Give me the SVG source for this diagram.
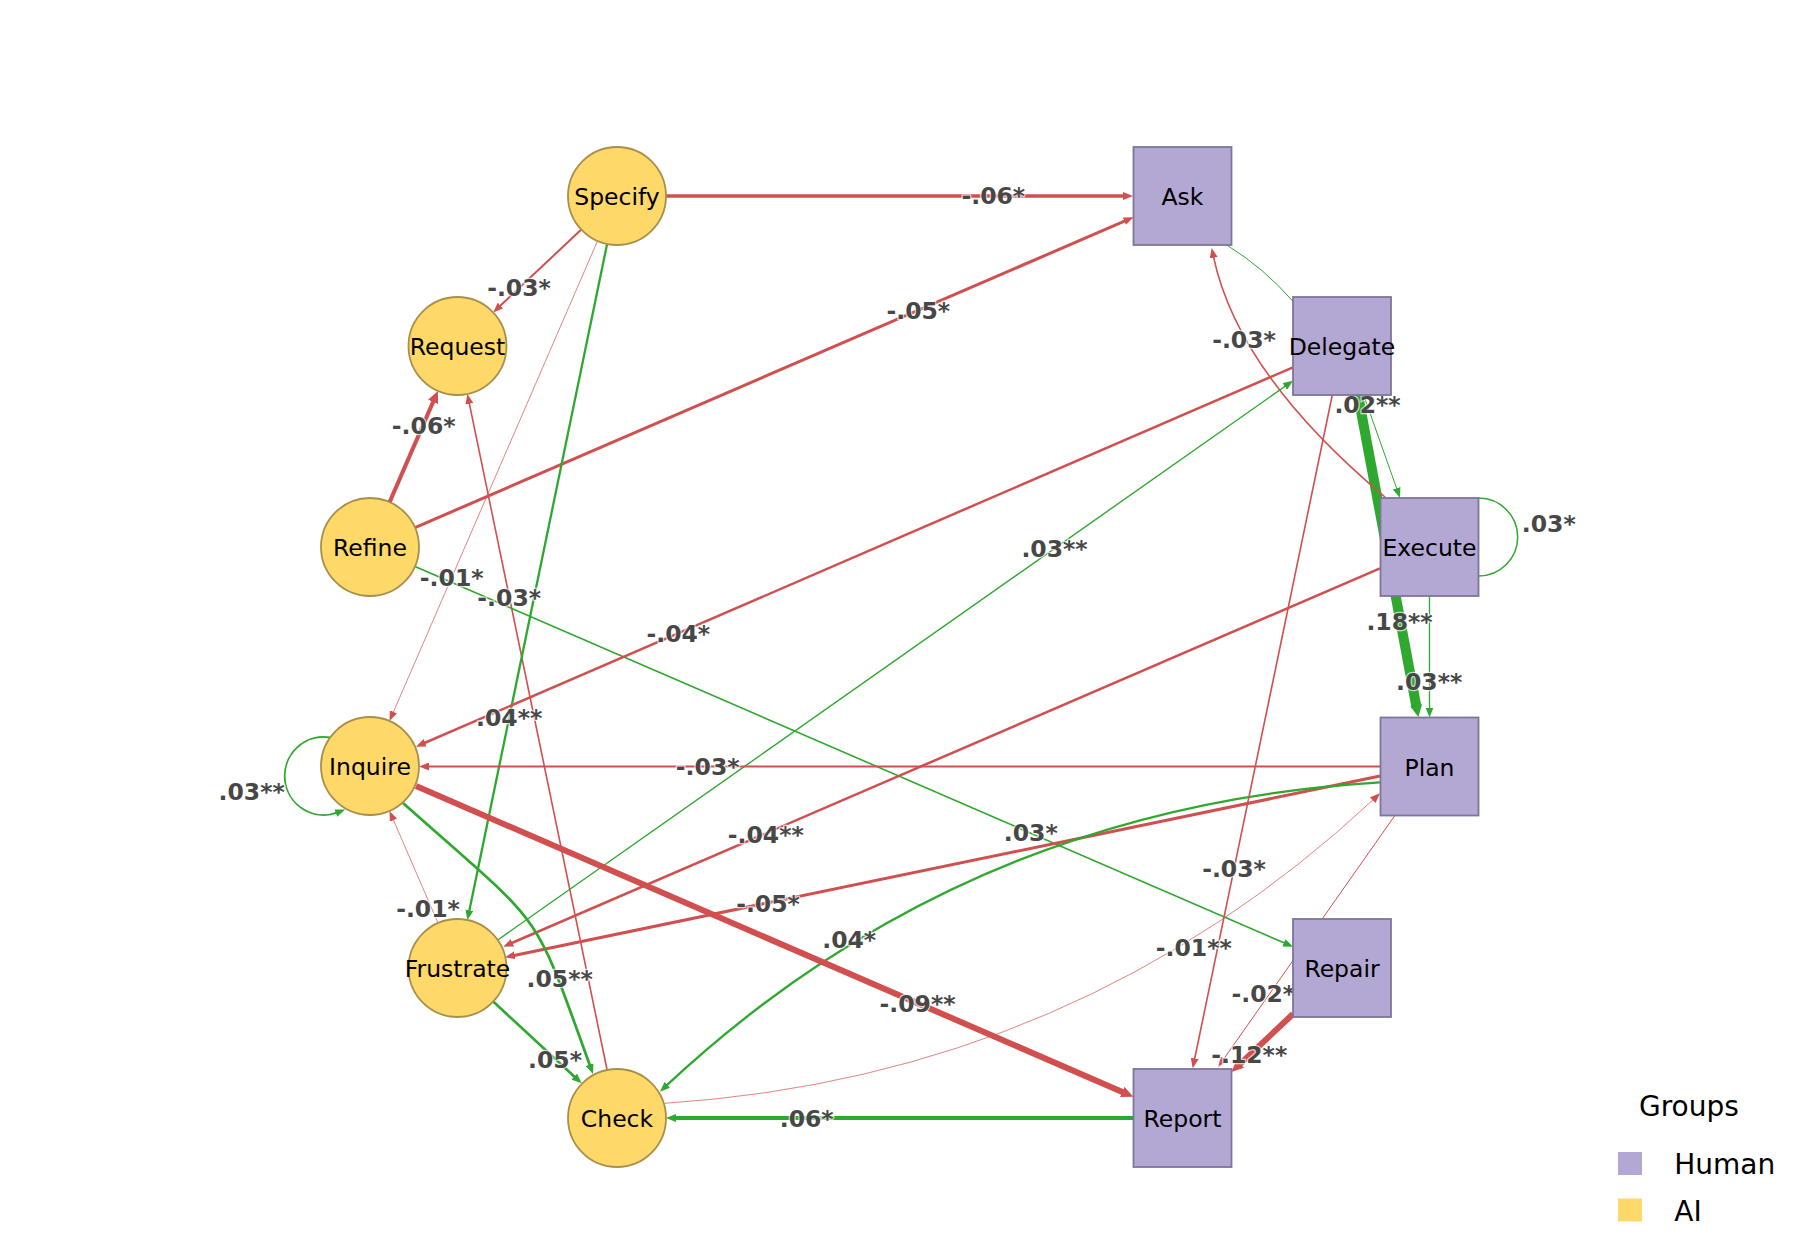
<svg xmlns="http://www.w3.org/2000/svg" width="1800" height="1260" viewBox="0 0 1800 1260">
<style>
.ai{fill:#FED96A;stroke:#A8904A;stroke-width:1.8}
.hu{fill:#B3A8D4;stroke:#7E7597;stroke-width:1.8}
.nl{font-family:"DejaVu Sans",sans-serif;font-size:23.5px;fill:#000;text-anchor:middle}
.r{fill:none;stroke:#D14F4F}
.g{fill:none;stroke:#2EA82E}
.el{font-family:"DejaVu Sans",sans-serif;font-weight:bold;font-size:23.5px;fill:#474747;text-anchor:middle;stroke:#fff;stroke-width:2.5;stroke-opacity:0.7;paint-order:stroke}
.lg{font-family:"DejaVu Sans",sans-serif;font-size:28px;fill:#000}
</style>
<defs>
<marker id="ar" markerUnits="userSpaceOnUse" viewBox="0 0 10 8" markerWidth="10" markerHeight="8" refX="2" refY="4" orient="auto"><path d="M0,0 L10,4 L0,8 z" fill="#D14F4F"/></marker>
<marker id="ag" markerUnits="userSpaceOnUse" viewBox="0 0 10 8" markerWidth="10" markerHeight="8" refX="2" refY="4" orient="auto"><path d="M0,0 L10,4 L0,8 z" fill="#2EA82E"/></marker>
<marker id="arb" markerUnits="userSpaceOnUse" viewBox="0 0 12 11" markerWidth="12" markerHeight="11" refX="2" refY="5.5" orient="auto"><path d="M0,0 L12,5.5 L0,11 z" fill="#D14F4F"/></marker>
<marker id="agb" markerUnits="userSpaceOnUse" viewBox="0 0 12 12" markerWidth="12" markerHeight="12" refX="2" refY="6" orient="auto"><path d="M0,0 L12,6 L0,12 z" fill="#2EA82E"/></marker>
</defs>
<rect width="1800" height="1260" fill="#fff"/>
<g id="connectors">
<path class="r" stroke-width="3.5" d="M666,196 L1125,196" marker-end="url(#ar)"/>
<path class="r" stroke-width="2" d="M581.3,229.6 L499,306.9" marker-end="url(#ar)"/>
<path class="r" stroke-width="0.7" d="M597.5,241 L392.7,713.7" marker-end="url(#ar)"/>
<path class="r" stroke-width="1.6" d="M607.1,1070 L469,401.8" marker-end="url(#ar)"/>
<path class="r" stroke-width="4" d="M389.6,502.1 L433.9,400.1" marker-end="url(#arb)"/>
<path class="r" stroke-width="3" d="M415,527.6 L1126.2,220.4" marker-end="url(#ar)"/>
<path class="g" stroke-width="1.6" d="M415,566.5 L1285.7,943.6" marker-end="url(#ag)"/>
<path class="g" stroke-width="2.3" d="M607.1,244 L469,912.2" marker-end="url(#ag)"/>
<path class="g" stroke-width="1.8" d="M330,737.5 A39,39 0 1 0 337.7,812.4" marker-end="url(#ag)"/>
<path class="g" stroke-width="1.5" d="M1478.7,498 A39,39 0 1 1 1478.7,576"/>
<path class="g" stroke-width="1" d="M1363.6,395 L1397.3,490.2" marker-end="url(#ag)"/>
<path class="g" stroke-width="10" stroke="#33AA33" d="M1358,395 L1416.5,707.2" marker-end="url(#agb)"/>
<path class="g" stroke-width="1.3" d="M1429.5,596.5 L1429.5,709.5" marker-end="url(#ag)"/>
<path class="r" stroke-width="1.6" d="M1385,497 Q1238,374 1213.3,255.8" marker-end="url(#ar)"/>
<path class="r" stroke-width="2.5" d="M1293,367.3 L423.3,743.5" marker-end="url(#ar)"/>
<path class="g" stroke-width="1.4" d="M497.7,940 L1286.5,385.3" marker-end="url(#ag)"/>
<path class="r" stroke-width="2.5" d="M1380,568.3 L510.6,943.5" marker-end="url(#ar)"/>
<path class="r" stroke-width="2" d="M1380.5,766.5 L427,766.5" marker-end="url(#ar)"/>
<path class="r" stroke-width="3" d="M1380,776 L512.8,955.7" marker-end="url(#ar)"/>
<path class="g" stroke-width="2.3" d="M1380,782.3 Q964,807 665.8,1086.2" marker-end="url(#ag)"/>
<path class="r" stroke-width="0.7" d="M665,1103.3 Q1077.5,1076 1374.2,798.8" marker-end="url(#ar)"/>
<path class="g" stroke-width="2.7" d="M403,803 C547.5,931.6 531.1,902.9 590.3,1066.5" marker-end="url(#ag)"/>
<path class="g" stroke-width="2.7" d="M493.2,1001.6 L575.8,1077.9" marker-end="url(#ag)"/>
<path class="r" stroke-width="0.7" d="M438,923 L392.7,818.3" marker-end="url(#ar)"/>
<path class="r" stroke-width="1.6" d="M1332.3,395 L1194.3,1060.5" marker-end="url(#ar)"/>
<path class="r" stroke-width="6" d="M416,786 L1124.1,1092.7" marker-end="url(#arb)"/>
<path class="r" stroke-width="6" d="M1293,1014 L1238.8,1065.1" marker-end="url(#arb)"/>
<path class="g" stroke-width="4" d="M1133.5,1118 L674,1118" marker-end="url(#ag)"/>
<path class="r" stroke-width="1" d="M1395,815.3 L1222.9,1060.2" marker-end="url(#ar)"/>
<path class="g" stroke-width="1" d="M1226.7,245 Q1264,268 1293.3,301.7"/>
</g>
<g id="edge-labels">
<text class="el" x="993.3" y="203.6">-.06*</text>
<text class="el" x="519" y="296.3">-.03*</text>
<text class="el" x="918.3" y="319">-.05*</text>
<text class="el" x="423.7" y="433.8">-.06*</text>
<text class="el" x="1244" y="348.3">-.03*</text>
<text class="el" x="1367.5" y="413.3">.02**</text>
<text class="el" x="1548.8" y="531.6">.03*</text>
<text class="el" x="1054.5" y="557.1">.03**</text>
<text class="el" x="451.7" y="585.5">-.01*</text>
<text class="el" x="509.2" y="605.5">-.03*</text>
<text class="el" x="678.3" y="642.3">-.04*</text>
<text class="el" x="1399.5" y="630">.18**</text>
<text class="el" x="1429.2" y="690">.03**</text>
<text class="el" x="509.2" y="725.8">.04**</text>
<text class="el" x="251.7" y="800">.03**</text>
<text class="el" x="707.7" y="775">-.03*</text>
<text class="el" x="765.8" y="843">-.04**</text>
<text class="el" x="1030.8" y="841.1">.03*</text>
<text class="el" x="1234" y="876.6">-.03*</text>
<text class="el" x="428" y="916.6">-.01*</text>
<text class="el" x="768" y="912.1">-.05*</text>
<text class="el" x="849.2" y="947.5">.04*</text>
<text class="el" x="1193.8" y="955.5">-.01**</text>
<text class="el" x="559.7" y="986.6">.05**</text>
<text class="el" x="1263.3" y="1002.1">-.02*</text>
<text class="el" x="917.5" y="1012.1">-.09**</text>
<text class="el" x="555" y="1068.3">.05*</text>
<text class="el" x="1249.2" y="1062.8">-.12**</text>
<text class="el" x="806.7" y="1126.6">.06*</text>
</g>
<g id="node-specify"><circle class="ai" cx="617" cy="196" r="49"/><text class="nl" x="617" y="205">Specify</text></g>
<g id="node-request"><circle class="ai" cx="457.5" cy="346" r="49"/><text class="nl" x="457.5" y="355">Request</text></g>
<g id="node-refine"><circle class="ai" cx="370" cy="547" r="49"/><text class="nl" x="370" y="556">Refine</text></g>
<g id="node-inquire"><circle class="ai" cx="370" cy="766" r="49"/><text class="nl" x="370" y="775">Inquire</text></g>
<g id="node-frustrate"><circle class="ai" cx="457.5" cy="968" r="49"/><text class="nl" x="457.5" y="977">Frustrate</text></g>
<g id="node-check"><circle class="ai" cx="617" cy="1118" r="49"/><text class="nl" x="617" y="1127">Check</text></g>
<g id="node-ask"><rect class="hu" x="1133.5" y="147" width="98" height="98"/><text class="nl" x="1182.5" y="205">Ask</text></g>
<g id="node-delegate"><rect class="hu" x="1293" y="297" width="98" height="98"/><text class="nl" x="1342" y="355">Delegate</text></g>
<g id="node-execute"><rect class="hu" x="1380.5" y="498" width="98" height="98"/><text class="nl" x="1429.5" y="556">Execute</text></g>
<g id="node-plan"><rect class="hu" x="1380.5" y="717.5" width="98" height="98"/><text class="nl" x="1429.5" y="776">Plan</text></g>
<g id="node-repair"><rect class="hu" x="1293" y="919" width="98" height="98"/><text class="nl" x="1342" y="977">Repair</text></g>
<g id="node-report"><rect class="hu" x="1133.5" y="1069" width="98" height="98"/><text class="nl" x="1182.5" y="1127">Report</text></g>
<g id="legend">
<text class="lg" x="1639" y="1116">Groups</text>
<rect x="1618" y="1152" width="24" height="23" fill="#B3A8D4"/>
<text class="lg" x="1674.3" y="1174">Human</text>
<rect x="1618" y="1198.5" width="24" height="23" fill="#FED96A"/>
<text class="lg" x="1674.3" y="1220.5">AI</text>
</g>
</svg>
